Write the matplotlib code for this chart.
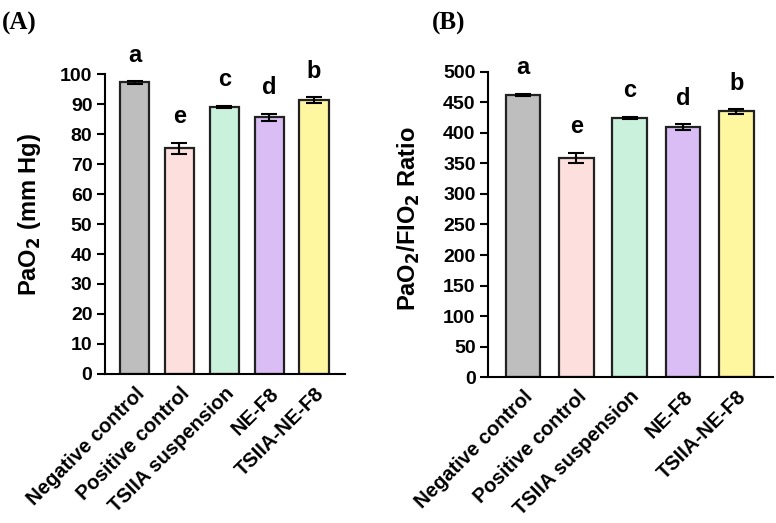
import matplotlib.pyplot as plt

plt.rcParams['font.family'] = ['Liberation Sans', 'DejaVu Sans']
plt.rcParams['font.weight'] = 'bold'

groups = ["Negative control", "Positive control", "TSIIA suspension", "NE-F8", "TSIIA-NE-F8"]
colors = ["#bebebe", "#fde0dd", "#c9f1dc", "#d9bdf4", "#fff6a0"]
letters = ["a", "e", "c", "d", "b"]

pao2 = [97.2, 75.3, 89.0, 85.6, 91.3]
pao2_err = [0.4, 1.8, 0.4, 1.1, 0.9]

ratio = [462, 359, 424, 409, 435]
ratio_err = [2, 8.5, 2, 4.8, 3.8]


def draw_panel(ax, values, errs, ymax, ystep, ylabel):
    x = list(range(len(groups)))
    ax.bar(x, values, width=0.65, color=colors, edgecolor="#222222", linewidth=1.6, zorder=2)
    ax.errorbar(x, values, yerr=errs, fmt="none", ecolor="black", elinewidth=1.5,
                capsize=6, capthick=1.5, zorder=3)
    for xi, v, e, lab in zip(x, values, errs, letters):
        ax.annotate(lab, (xi, v + e), xytext=(0, 14), textcoords="offset points",
                    ha="center", va="baseline", fontsize=17, fontweight="bold")
    ax.set_xlim(-0.66, 4.69)
    ax.set_ylim(0, ymax)
    ax.set_yticks(range(0, ymax + 1, ystep))
    ax.set_xticks(x)
    ax.set_xticklabels(groups, rotation=45, ha="right", rotation_mode="anchor", fontsize=14.5)
    ax.tick_params(axis="y", labelsize=14, width=1.5, length=6, pad=3)
    ax.tick_params(axis="x", length=0, pad=7)
    for s in ("top", "right"):
        ax.spines[s].set_visible(False)
    for s in ("left", "bottom"):
        ax.spines[s].set_linewidth(1.5)
    ax.spines["left"].set_bounds(0, ymax)
    ax.set_ylabel(ylabel, fontsize=17, fontweight="bold")


fig = plt.figure(figsize=(7.76, 5.23), dpi=100)
ax1 = fig.add_axes([0.1353, 0.2849, 0.3093, 0.5736])
ax2 = fig.add_axes([0.6289, 0.2786, 0.3672, 0.5843])

draw_panel(ax1, pao2, pao2_err, 100, 10, r"PaO$_\mathbf{2}$ (mm Hg)")
draw_panel(ax2, ratio, ratio_err, 500, 50, r"PaO$_\mathbf{2}$/FIO$_\mathbf{2}$ Ratio")
ax1.yaxis.set_label_coords(-0.26, 0.53)
ax2.yaxis.set_label_coords(-0.233, 0.52)

fig.text(0.003, 0.978, "(A)", family="Liberation Serif", fontsize=18, fontweight="bold", va="top")
fig.text(0.556, 0.978, "(B)", family="Liberation Serif", fontsize=18, fontweight="bold", va="top")

fig.savefig("out.png", dpi=100)
